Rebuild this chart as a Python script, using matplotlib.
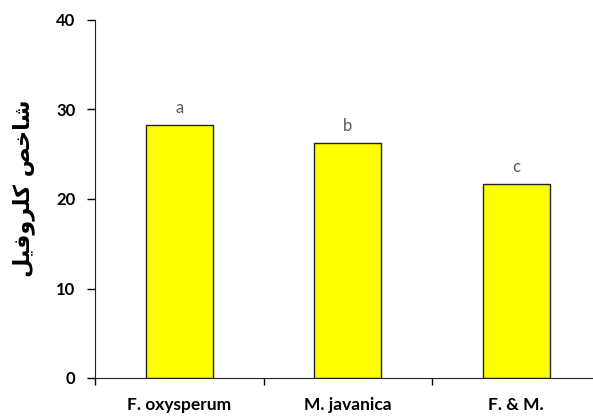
import matplotlib
matplotlib.use('Agg')
import matplotlib.pyplot as plt

categories = ['F. oxysperum', 'M. javanica', 'F. & M.']
values = [28.3, 26.3, 21.7]
letters = ['a', 'b', 'c']

# Persian label "شاخص کلروفیل" written with presentation forms in visual order,
# since matplotlib does no Arabic shaping on its own
ylabel = '\uFEDE\uFBFF\uFED3\uFEED\uFEAE\uFEE0\uFB90 \uFEBA\uFEA7\uFE8E\uFEB7'

plt.rcParams['font.family'] = ['Lato', 'DejaVu Sans']

fig = plt.figure(figsize=(5.93, 4.16), dpi=100)
ax = fig.add_axes([95 / 593, 38 / 416, 505.5 / 593, 358 / 416])

x = range(len(categories))
bars = ax.bar(x, values, width=0.4, color='#ffff00', edgecolor='#222222', linewidth=1.0)
for b, v, t in zip(bars, values, letters):
    ax.text(b.get_x() + b.get_width() / 2, v + 1.0, t, ha='center', va='bottom',
            fontsize=12, color='#595959')

ax.set_xlim(-0.5, 2.5)
ax.set_ylim(0, 40)
ax.set_yticks([0, 10, 20, 30, 40])
ax.set_xticks([-0.5, 0.5, 1.5, 2.5])
ax.set_xticklabels([])
ax.set_xticks(list(x), minor=True)
ax.set_xticklabels(categories, minor=True, fontweight='bold', fontsize=12.5)
ax.tick_params(axis='x', which='minor', length=0, pad=14)
ax.tick_params(axis='x', which='major', length=5, direction='out', width=1)
ax.tick_params(axis='y', length=6, direction='out', width=1, pad=8)
for lab in ax.get_yticklabels():
    lab.set_fontweight('bold')
    lab.set_fontsize(12)

ax.spines['top'].set_visible(False)
ax.spines['right'].set_visible(False)
ax.spines['left'].set_color('#222222')
ax.spines['bottom'].set_color('#222222')

fig.text(24 / 593, 1 - 188 / 416, ylabel, rotation=90, ha='center', va='center',
         fontsize=16, fontweight='bold', family=['DejaVu Sans'])

fig.savefig('out.png', dpi=100)
